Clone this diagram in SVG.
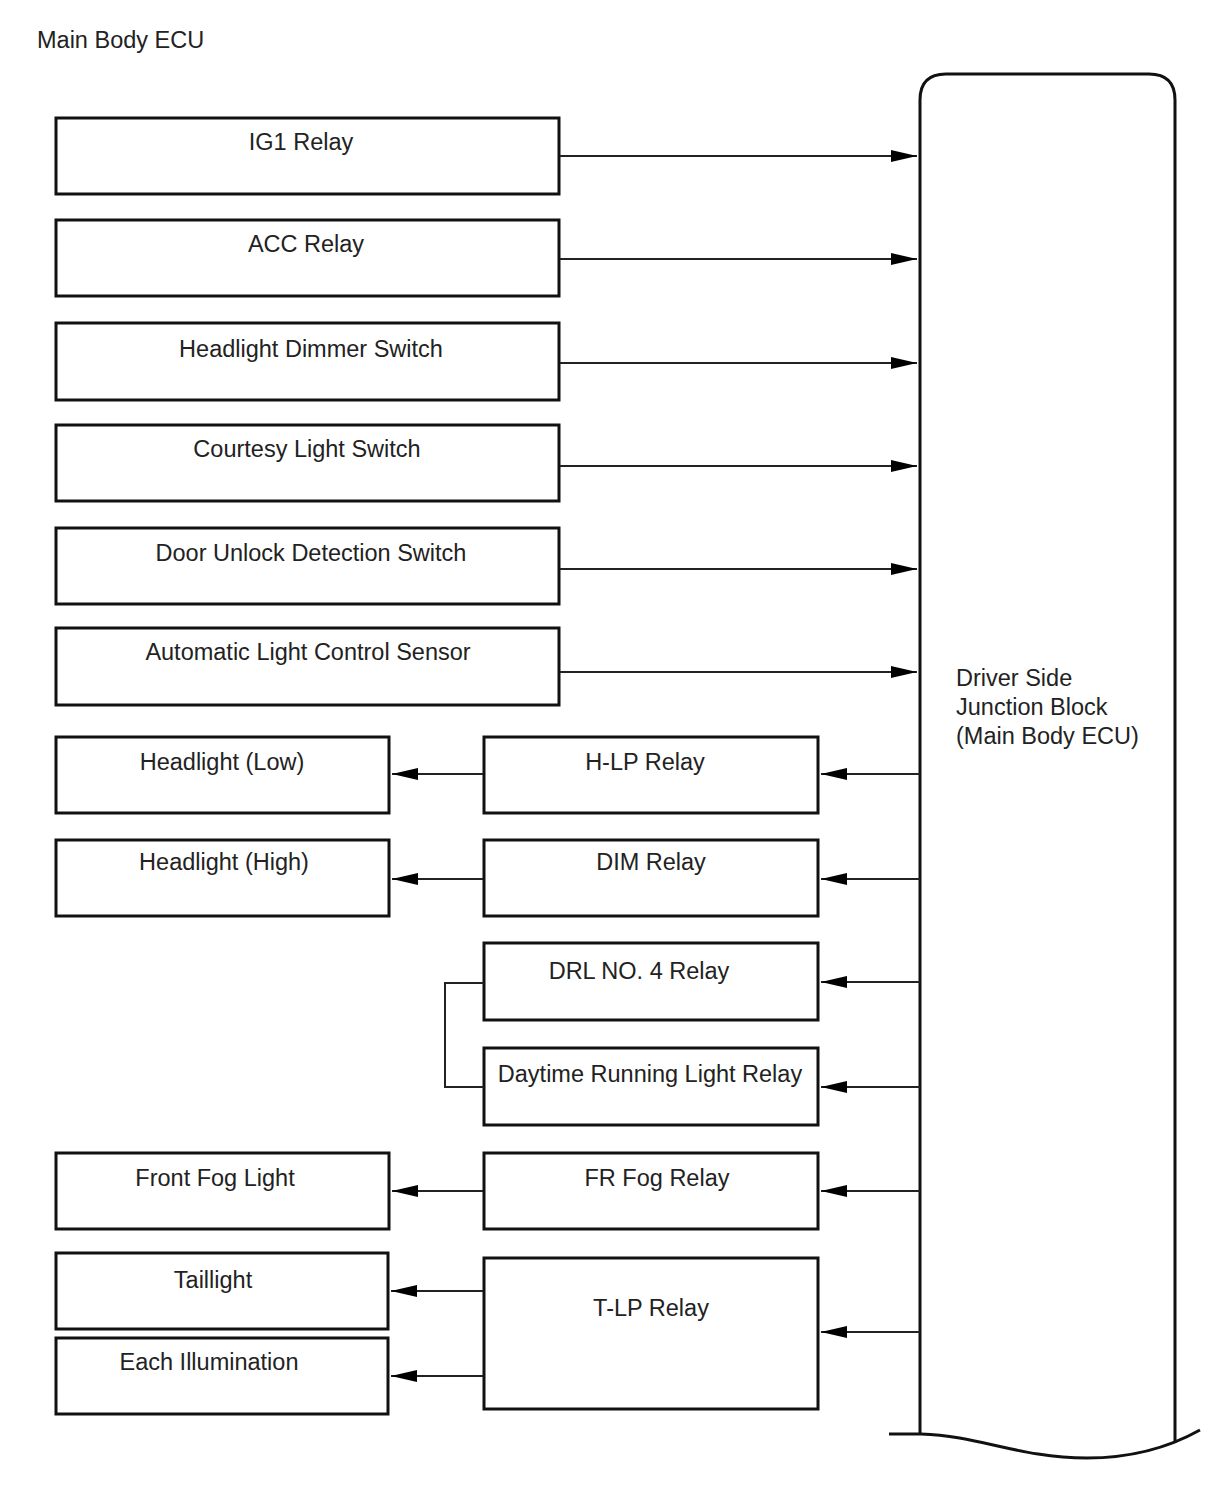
<svg xmlns="http://www.w3.org/2000/svg" width="1210" height="1498" viewBox="0 0 1210 1498">
<style>
.box{fill:#fff;stroke:#111;stroke-width:3}
.ln{fill:none;stroke:#222;stroke-width:2}
text{font-family:"Liberation Sans",Arial,sans-serif;font-size:23.5px;fill:#222}
.c{text-anchor:middle}
</style>
<defs>
<marker id="ah" viewBox="0 0 10 10" refX="10" refY="5" markerWidth="26" markerHeight="12" markerUnits="userSpaceOnUse" orient="auto" preserveAspectRatio="none">
<path d="M0,0 L10,5 L0,10 z" fill="#000"/>
</marker>
</defs>
<rect width="1210" height="1498" fill="#fff"/>
<text x="37" y="48">Main Body ECU</text>
<g id="jb">
<path class="box" d="M920,1434 V100 Q920,74 946,74 H1149 Q1175,74 1175,100 V1443" />
<path class="ln" style="stroke:#111;stroke-width:3" d="M889,1434 L921,1434 C980,1436 1020,1458 1087,1458 C1140,1458 1175,1444 1200,1430"/>
<text x="956" y="686">Driver Side</text>
<text x="956" y="715">Junction Block</text>
<text x="956" y="744">(Main Body ECU)</text>
</g>
<g id="ig1"><rect class="box" x="56" y="118" width="503" height="76"/><text class="c" x="301" y="150">IG1 Relay</text></g>
<g id="acc"><rect class="box" x="56" y="220" width="503" height="76"/><text class="c" x="306" y="252">ACC Relay</text></g>
<g id="hds"><rect class="box" x="56" y="323" width="503" height="77"/><text class="c" x="311" y="357">Headlight Dimmer Switch</text></g>
<g id="cls"><rect class="box" x="56" y="425" width="503" height="76"/><text class="c" x="307" y="457">Courtesy Light Switch</text></g>
<g id="duds"><rect class="box" x="56" y="528" width="503" height="76"/><text class="c" x="311" y="561">Door Unlock Detection Switch</text></g>
<g id="alcs"><rect class="box" x="56" y="628" width="503" height="77"/><text class="c" x="308" y="660">Automatic Light Control Sensor</text></g>
<g id="hlow"><rect class="box" x="56" y="737" width="333" height="76"/><text class="c" x="222" y="770">Headlight (Low)</text></g>
<g id="hlp"><rect class="box" x="484" y="737" width="334" height="76"/><text class="c" x="645" y="770">H-LP Relay</text></g>
<g id="hhigh"><rect class="box" x="56" y="840" width="333" height="76"/><text class="c" x="224" y="870">Headlight (High)</text></g>
<g id="dim"><rect class="box" x="484" y="840" width="334" height="76"/><text class="c" x="651" y="870">DIM Relay</text></g>
<g id="drl4"><rect class="box" x="484" y="943" width="334" height="77"/><text class="c" x="639" y="979">DRL NO. 4 Relay</text></g>
<g id="drl"><rect class="box" x="484" y="1048" width="334" height="77"/><text class="c" x="650" y="1082">Daytime Running Light Relay</text></g>
<g id="ffl"><rect class="box" x="56" y="1153" width="333" height="76"/><text class="c" x="215" y="1186">Front Fog Light</text></g>
<g id="frfog"><rect class="box" x="484" y="1153" width="334" height="76"/><text class="c" x="657" y="1186">FR Fog Relay</text></g>
<g id="tail"><rect class="box" x="56" y="1253" width="332" height="76"/><text class="c" x="213" y="1288">Taillight</text></g>
<g id="illum"><rect class="box" x="56" y="1338" width="332" height="76"/><text class="c" x="209" y="1370">Each Illumination</text></g>
<g id="tlp"><rect class="box" x="484" y="1258" width="334" height="151"/><text class="c" x="651" y="1316">T-LP Relay</text></g>
<g id="connectors">
<path class="ln" marker-end="url(#ah)" d="M560,156 H917"/>
<path class="ln" marker-end="url(#ah)" d="M560,259 H917"/>
<path class="ln" marker-end="url(#ah)" d="M560,363 H917"/>
<path class="ln" marker-end="url(#ah)" d="M560,466 H917"/>
<path class="ln" marker-end="url(#ah)" d="M560,569 H917"/>
<path class="ln" marker-end="url(#ah)" d="M560,672 H917"/>
<path class="ln" marker-end="url(#ah)" d="M920,774 H821"/>
<path class="ln" marker-end="url(#ah)" d="M920,879 H821"/>
<path class="ln" marker-end="url(#ah)" d="M920,982 H821"/>
<path class="ln" marker-end="url(#ah)" d="M920,1087 H821"/>
<path class="ln" marker-end="url(#ah)" d="M920,1191 H821"/>
<path class="ln" marker-end="url(#ah)" d="M920,1332 H821"/>
<path class="ln" marker-end="url(#ah)" d="M483,774 H392"/>
<path class="ln" marker-end="url(#ah)" d="M483,879 H392"/>
<path class="ln" marker-end="url(#ah)" d="M483,1191 H392"/>
<path class="ln" marker-end="url(#ah)" d="M483,1291 H391"/>
<path class="ln" marker-end="url(#ah)" d="M483,1376 H391"/>
<path class="ln" d="M484,983 H445 V1087 H484"/>
</g>
</svg>
